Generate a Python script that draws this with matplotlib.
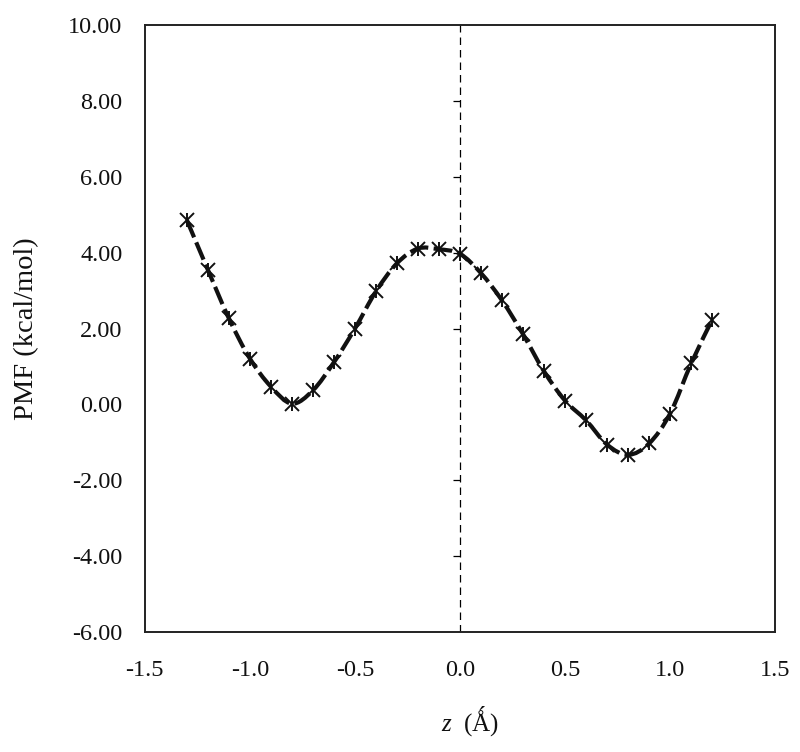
import matplotlib
matplotlib.use('Agg')
import matplotlib.pyplot as plt
import numpy as np
from matplotlib.path import Path
from matplotlib.patches import PathPatch

plt.rcParams['font.family'] = ['Liberation Serif', 'DejaVu Serif']
plt.rcParams['mathtext.fontset'] = 'custom'
plt.rcParams['mathtext.it'] = 'Liberation Serif:italic'
plt.rcParams['mathtext.rm'] = 'Liberation Serif'

# data
z = [-1.3, -1.2, -1.1, -1.0, -0.9, -0.8, -0.7, -0.6, -0.5, -0.4, -0.3, -0.2, -0.1,
     0.0, 0.1, 0.2, 0.3, 0.4, 0.5, 0.6, 0.7, 0.8, 0.9, 1.0, 1.1, 1.2]
pmf = [4.86, 3.55, 2.27, 1.21, 0.47, 0.02, 0.37, 1.11, 2.00, 2.98, 3.72, 4.11, 4.09,
       3.97, 3.46, 2.74, 1.85, 0.87, 0.10, -0.42, -1.06, -1.33, -1.03, -0.24, 1.08, 2.23]
yticks = [-6, -4, -2, 0, 2, 4, 6, 8, 10]
xticks = [-1.5, -1.0, -0.5, 0.0, 0.5, 1.0, 1.5]
inner_ticks = [-4, -2, 2, 4, 6, 8]

fig = plt.figure(figsize=(8, 7.52), dpi=100)
ax = fig.add_axes([0.181, 0.1596, 0.788, 0.807])

# smoothed line (bezier through the points, like a spreadsheet "smoothed line")
x = np.array(z)
y = np.array(pmf)
verts = [(x[0], y[0])]
codes = [Path.MOVETO]
for i in range(len(x) - 1):
    p0 = np.array([x[max(i - 1, 0)], y[max(i - 1, 0)]])
    p1 = np.array([x[i], y[i]])
    p2 = np.array([x[i + 1], y[i + 1]])
    p3 = np.array([x[min(i + 2, len(x) - 1)], y[min(i + 2, len(x) - 1)]])
    c1 = p1 + (p2 - p0) / 6.0
    c2 = p2 - (p3 - p1) / 6.0
    verts += [tuple(c1), tuple(c2), tuple(p2)]
    codes += [Path.CURVE4] * 3
curve = PathPatch(Path(verts, codes), facecolor='none', edgecolor='#111111',
                  lw=3, linestyle=(0, (4.5, 1.3)), zorder=3)
ax.add_patch(curve)

ax.plot(z, pmf, linestyle='none', marker='x', ms=9.5, mew=1.4, color='#111111', zorder=4)
ax.plot(z, pmf, linestyle='none', marker='|', ms=10.5, mew=1.4, color='#111111', zorder=4)

# vertical dashed axis at z = 0 with small ticks
ax.axvline(0, color='black', lw=0.9, linestyle=(0, (6, 4)), zorder=2)
ax.plot([0] * len(inner_ticks), inner_ticks, linestyle='none', marker=0, ms=5,
        mew=0.9, color='black', zorder=2)

ax.set_xlim(-1.5, 1.5)
ax.set_ylim(-6, 10)
ax.set_xticks(xticks)
ax.set_yticks(yticks)
ax.set_xticklabels(['%.1f' % v for v in xticks])
ax.set_yticklabels(['%.2f' % v for v in yticks])
ax.tick_params(length=0, labelsize=17.5, colors='#111111')
ax.tick_params(axis='y', pad=16)
ax.tick_params(axis='x', pad=20)
for s in ax.spines.values():
    s.set_linewidth(1.4)
    s.set_color('#222222')

ax.set_xlabel('$z$  (Ǻ)', fontsize=18, labelpad=17, color='#111111')
ax.xaxis.label.set_x(0.516)
ax.set_ylabel('PMF (kcal/mol)', fontsize=20.5, labelpad=21, color='#111111')

fig.savefig('out.png', dpi=100)
